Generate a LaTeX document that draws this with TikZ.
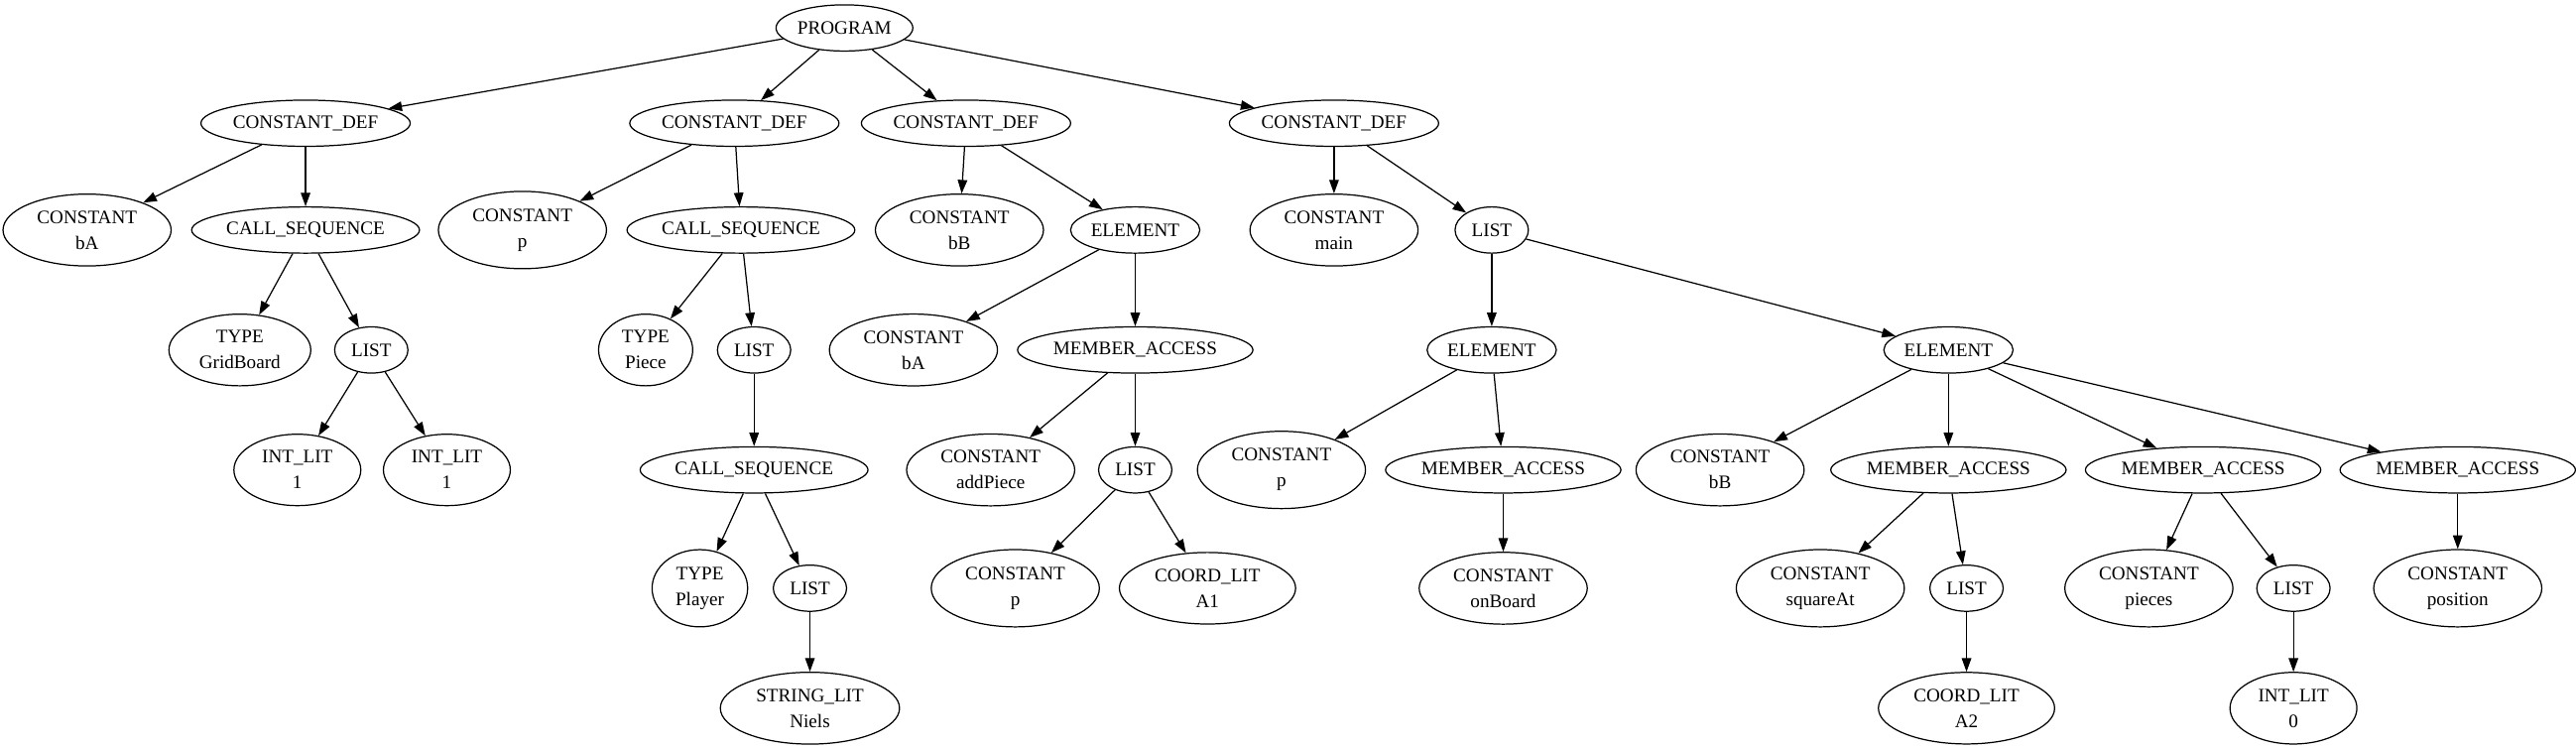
\documentclass[tikz,border=0pt]{standalone}
\usepackage{fontspec}
\setmainfont{Liberation Serif}
\usetikzlibrary{shapes.geometric,arrows.meta}
\tikzset{
  ast/.style={draw,ellipse,line width=0.9pt,minimum width=54pt,minimum height=34pt,
    inner xsep=1pt,inner ysep=3pt,align=center,font=\fontsize{14}{19}\selectfont},
  ast2/.style={ast,inner xsep=7pt,inner ysep=4.5pt},
  astarrow/.style={-{Triangle[length=10pt,width=7pt]},line width=0.9pt}
}

\begin{document}
\begin{tikzpicture}[x=1.21pt,y=-1.21pt]
\useasboundingbox (0,0) rectangle (1568,456);

\node[ast] (prog) at (514,17) {PROGRAM};

\node[ast] (def1) at (186,75) {CONSTANT\_DEF};
\node[ast] (def2) at (447,75) {CONSTANT\_DEF};
\node[ast] (def3) at (588,75) {CONSTANT\_DEF};
\node[ast] (def4) at (812,75) {CONSTANT\_DEF};

\node[ast2] (cbA) at (53,140) {CONSTANT\\bA};
\node[ast] (cs1) at (186,140) {CALL\_SEQUENCE};
\node[ast2] (cp) at (318,140) {CONSTANT\\p};
\node[ast] (cs2) at (451,140) {CALL\_SEQUENCE};
\node[ast2] (cbB) at (584,140) {CONSTANT\\bB};
\node[ast] (elem1) at (691,140) {ELEMENT};
\node[ast2] (cmain) at (812,140) {CONSTANT\\main};
\node[ast] (list0) at (908,140) {LIST};

\node[ast2] (tgrid) at (146,213) {TYPE\\GridBoard};
\node[ast] (list1) at (226,213) {LIST};
\node[ast2] (tpiece) at (393,213) {TYPE\\Piece};
\node[ast] (list2) at (459,213) {LIST};
\node[ast2] (cbA2) at (556,213) {CONSTANT\\bA};
\node[ast] (ma1) at (691,213) {MEMBER\_ACCESS};
\node[ast] (elem2) at (908,213) {ELEMENT};
\node[ast] (elem3) at (1186,213) {ELEMENT};

\node[ast2] (int1) at (181,286) {INT\_LIT\\1};
\node[ast2] (int2) at (272,286) {INT\_LIT\\1};
\node[ast] (cs3) at (459,286) {CALL\_SEQUENCE};
\node[ast2] (caddp) at (603,286) {CONSTANT\\addPiece};
\node[ast] (list3) at (691,286) {LIST};
\node[ast2] (cp3) at (780,286) {CONSTANT\\p};
\node[ast] (ma2) at (915,286) {MEMBER\_ACCESS};
\node[ast2] (cbB2) at (1047,286) {CONSTANT\\bB};
\node[ast] (ma3) at (1186,286) {MEMBER\_ACCESS};
\node[ast] (ma4) at (1341,286) {MEMBER\_ACCESS};
\node[ast] (ma5) at (1496,286) {MEMBER\_ACCESS};

\node[ast2] (tplayer) at (426,358) {TYPE\\Player};
\node[ast] (list4) at (493,358) {LIST};
\node[ast2] (cp2) at (618,358) {CONSTANT\\p};
\node[ast2] (coordA1) at (735,358) {COORD\_LIT\\A1};
\node[ast2] (conb) at (915,358) {CONSTANT\\onBoard};
\node[ast2] (csq) at (1108,358) {CONSTANT\\squareAt};
\node[ast] (list5) at (1197,358) {LIST};
\node[ast2] (cpieces) at (1308,358) {CONSTANT\\pieces};
\node[ast] (list6) at (1396,358) {LIST};
\node[ast2] (cpos) at (1496,358) {CONSTANT\\position};

\node[ast2] (strN) at (493,431) {STRING\_LIT\\Niels};
\node[ast2] (coordA2) at (1197,431) {COORD\_LIT\\A2};
\node[ast2] (int0) at (1396,431) {INT\_LIT\\0};

\draw[astarrow] (prog) -- (def1);
\draw[astarrow] (prog) -- (def2);
\draw[astarrow] (prog) -- (def3);
\draw[astarrow] (prog) -- (def4);

\draw[astarrow] (def1) -- (cbA);
\draw[astarrow] (def1) -- (cs1);
\draw[astarrow] (cs1) -- (tgrid);
\draw[astarrow] (cs1) -- (list1);
\draw[astarrow] (list1) -- (int1);
\draw[astarrow] (list1) -- (int2);

\draw[astarrow] (def2) -- (cp);
\draw[astarrow] (def2) -- (cs2);
\draw[astarrow] (cs2) -- (tpiece);
\draw[astarrow] (cs2) -- (list2);
\draw[astarrow] (list2) -- (cs3);
\draw[astarrow] (cs3) -- (tplayer);
\draw[astarrow] (cs3) -- (list4);
\draw[astarrow] (list4) -- (strN);

\draw[astarrow] (def3) -- (cbB);
\draw[astarrow] (def3) -- (elem1);
\draw[astarrow] (elem1) -- (cbA2);
\draw[astarrow] (elem1) -- (ma1);
\draw[astarrow] (ma1) -- (caddp);
\draw[astarrow] (ma1) -- (list3);
\draw[astarrow] (list3) -- (cp2);
\draw[astarrow] (list3) -- (coordA1);

\draw[astarrow] (def4) -- (cmain);
\draw[astarrow] (def4) -- (list0);
\draw[astarrow] (list0) -- (elem2);
\draw[astarrow] (list0) -- (elem3);
\draw[astarrow] (elem2) -- (cp3);
\draw[astarrow] (elem2) -- (ma2);
\draw[astarrow] (ma2) -- (conb);
\draw[astarrow] (elem3) -- (cbB2);
\draw[astarrow] (elem3) -- (ma3);
\draw[astarrow] (elem3) -- (ma4);
\draw[astarrow] (elem3) -- (ma5);
\draw[astarrow] (ma3) -- (csq);
\draw[astarrow] (ma3) -- (list5);
\draw[astarrow] (list5) -- (coordA2);
\draw[astarrow] (ma4) -- (cpieces);
\draw[astarrow] (ma4) -- (list6);
\draw[astarrow] (list6) -- (int0);
\draw[astarrow] (ma5) -- (cpos);
\end{tikzpicture}
\end{document}
